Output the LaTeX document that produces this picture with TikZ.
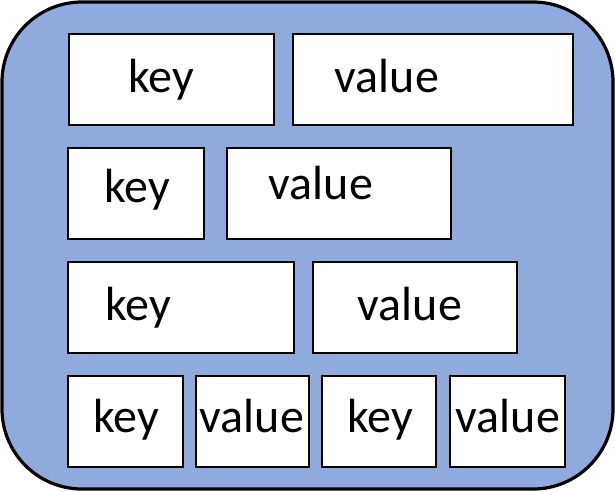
\documentclass[tikz,border=0pt]{standalone}
\usepackage{fontspec}
\setmainfont{Carlito}
\begin{document}
\begin{tikzpicture}[x=1pt,y=-1pt,
  cell/.style={draw=black,fill=white,line width=2.3pt,inner sep=0pt,outer sep=0pt},
  lbl/.style={anchor=base,inner sep=0pt,font=\fontsize{48}{52}\selectfont}]
\useasboundingbox (0,0) rectangle (615,491);
\draw[line width=3.2pt,fill={rgb,255:red,143;green,170;blue,220},rounded corners=80pt] (2,2) rectangle (613,489);
% row 1
\node[cell,minimum width=205pt,minimum height=91pt,anchor=north west] (k1) at (69,34) {};
\node[cell,minimum width=280pt,minimum height=91pt,anchor=north west] (v1) at (293,34) {};
\node[lbl] (tk1) at (161,92) {key};
\node[lbl] (tv1) at (387,92) {value};
% row 2
\node[cell,minimum width=136pt,minimum height=91pt,anchor=north west] (k2) at (68,148) {};
\node[cell,minimum width=224pt,minimum height=91pt,anchor=north west] (v2) at (227,148) {};
\node[lbl] (tk2) at (137,202) {key};
\node[lbl] (tv2) at (321,199) {value};
% row 3
\node[cell,minimum width=226pt,minimum height=91pt,anchor=north west] (k3) at (68,262) {};
\node[cell,minimum width=204pt,minimum height=91pt,anchor=north west] (v3) at (313,262) {};
\node[lbl] (tk3) at (138,320) {key};
\node[lbl] (tv3) at (410,320) {value};
% row 4
\node[cell,minimum width=115pt,minimum height=91pt,anchor=north west] (k4) at (68,376) {};
\node[cell,minimum width=113pt,minimum height=91pt,anchor=north west] (v4) at (196,376) {};
\node[cell,minimum width=114pt,minimum height=91pt,anchor=north west] (k5) at (322,376) {};
\node[cell,minimum width=115pt,minimum height=91pt,anchor=north west] (v5) at (450,376) {};
\node[lbl] (tk4) at (126,432) {key};
\node[lbl] (tv4) at (252,432) {value};
\node[lbl] (tk5) at (380,432) {key};
\node[lbl] (tv5) at (508,432) {value};
\end{tikzpicture}
\end{document}
